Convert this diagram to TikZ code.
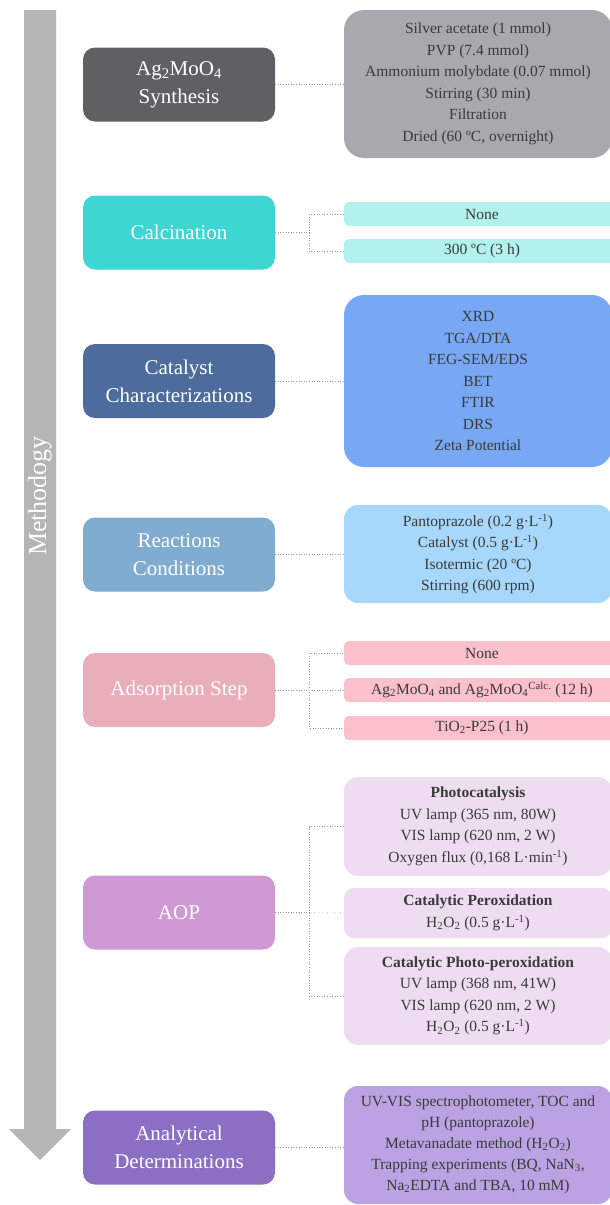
\documentclass[tikz,border=0pt]{standalone}
\usepackage{fontspec}
\setmainfont{Liberation Serif}
\usetikzlibrary{positioning}
\definecolor{arrowgray}{HTML}{B5B5B5}
\definecolor{textgray}{HTML}{3A3A3A}
\definecolor{linkgray}{HTML}{9A9A9A}
\definecolor{synthdark}{HTML}{5E6063}
\definecolor{synthlight}{HTML}{A6A9AE}
\definecolor{calcdark}{HTML}{3DD6D3}
\definecolor{calclight}{HTML}{B3F2EC}
\definecolor{chardark}{HTML}{4B6C9C}
\definecolor{charlight}{HTML}{78A8F4}
\definecolor{reacdark}{HTML}{80ACD0}
\definecolor{reaclight}{HTML}{A7D8FB}
\definecolor{adsdark}{HTML}{E8AEBA}
\definecolor{adslight}{HTML}{FAC0CC}
\definecolor{aopdark}{HTML}{CE99D4}
\definecolor{aoplight}{HTML}{EEDDF1}
\definecolor{anadark}{HTML}{8B6FC2}
\definecolor{analight}{HTML}{BBA3E3}

\begin{document}
\begin{tikzpicture}[x=1pt,y=-1pt,
  stage/.style={rectangle,rounded corners=12pt,fill=#1,text=white,minimum width=192pt,minimum height=74pt,inner sep=0pt,align=center,font=\fontsize{21}{28}\selectfont},
  detail/.style={rectangle,rounded corners=20pt,fill=#1,text=textgray,minimum width=268pt,inner sep=0pt,align=center,font=\fontsize{15.5}{21.5}\selectfont},
  option/.style={detail=#1,rounded corners=5pt,minimum width=276pt,minimum height=24pt},
  link/.style={dotted,draw=linkgray,line width=0.6pt}]

  \useasboundingbox (0,0) rectangle (610,1205);

  % Methodology arrow
  \fill[arrowgray] (24,10) -- (56,10) -- (56,1129) -- (71,1129) -- (40,1160) -- (9,1129) -- (24,1129) -- cycle;
  \node[rotate=90,text=white,font=\fontsize{26}{30}\selectfont] (M) at (40,496) {Methodogy};

  % Stage boxes
  \node[stage=synthdark] (S1) at (179,84.5) {Ag\textsubscript{2}MoO\textsubscript{4}\\Synthesis};
  \node[stage=calcdark] (S2) at (179,232.5) {Calcination};
  \node[stage=chardark] (S3) at (179,381) {Catalyst\\Characterizations};
  \node[stage=reacdark] (S4) at (179,554.5) {Reactions\\Conditions};
  \node[stage=adsdark] (S5) at (179,690) {Adsorption Step};
  \node[stage=aopdark] (S6) at (179,912.5) {AOP};
  \node[stage=anadark] (S7) at (179,1147.5) {Analytical\\Determinations};

  % Detail boxes
  \node[detail=synthlight,minimum height=148pt] (D1) at (478,84) {
    Silver acetate (1 mmol)\\
    PVP (7.4 mmol)\\
    Ammonium molybdate (0.07 mmol)\\
    Stirring (30 min)\\
    Filtration\\
    Dried (60 ºC, overnight)
  };
  \node[option=calclight] (D2a) at (482,214) {None};
  \node[option=calclight] (D2b) at (482,251) {300 ºC (3 h)};
  \node[detail=charlight,minimum height=172pt] (D3) at (478,381) {
    XRD\\
    TGA/DTA\\
    FEG-SEM/EDS\\
    BET\\
    FTIR\\
    DRS\\
    Zeta Potential
  };
  \node[detail=reaclight,rounded corners=14pt,minimum height=98pt] (D4) at (478,554) {
    Pantoprazole (0.2 g·L\textsuperscript{-1})\\
    Catalyst (0.5 g·L\textsuperscript{-1})\\
    Isotermic (20 ºC)\\
    Stirring (600 rpm)
  };
  \node[option=adslight] (D5a) at (482,653) {None};
  \node[option=adslight] (D5b) at (482,690) {Ag\textsubscript{2}MoO\textsubscript{4} and Ag\textsubscript{2}MoO\textsubscript{4}\textsuperscript{Calc.} (12 h)};
  \node[option=adslight] (D5c) at (482,728) {TiO\textsubscript{2}-P25 (1 h)};
  \node[detail=aoplight,rounded corners=14pt,minimum height=99pt] (D6a) at (478,826.5) {
    \textbf{Photocatalysis}\\
    UV lamp (365 nm, 80W)\\
    VIS lamp (620 nm, 2 W)\\
    Oxygen flux (0,168 L·min\textsuperscript{-1})
  };
  \node[detail=aoplight,rounded corners=10pt,minimum height=50pt] (D6b) at (478,913) {
    \textbf{Catalytic Peroxidation}\\
    H\textsubscript{2}O\textsubscript{2} (0.5 g·L\textsuperscript{-1})
  };
  \node[detail=aoplight,rounded corners=14pt,minimum height=98pt] (D6c) at (478,996) {
    \textbf{Catalytic Photo-peroxidation}\\
    UV lamp (368 nm, 41W)\\
    VIS lamp (620 nm, 2 W)\\
    H\textsubscript{2}O\textsubscript{2} (0.5 g·L\textsuperscript{-1})
  };
  \node[detail=analight,rounded corners=14pt,minimum height=118pt,font=\fontsize{15.5}{21}\selectfont] (D7) at (478,1145) {
    UV-VIS spectrophotometer, TOC and\\
    pH (pantoprazole)\\
    Metavanadate method (H\textsubscript{2}O\textsubscript{2})\\
    Trapping experiments (BQ, NaN\textsubscript{3},\\
    Na\textsubscript{2}EDTA and TBA, 10 mM)
  };

  % Links between stages and details
  \draw[link] (S1.east) -- (D1.west |- S1.east);
  \draw[link] (S2.east) -- ++(34,0) |- (D2a.west);
  \draw[link] (S2.east) -- ++(34,0) |- (D2b.west);
  \draw[link] (S3.east) -- (D3.west |- S3.east);
  \draw[link] (S4.east) -- (D4.west |- S4.east);
  \draw[link] (S5.east) -- ++(34,0) |- (D5a.west);
  \draw[link] (S5.east) -- (D5b.west);
  \draw[link] (S5.east) -- ++(34,0) |- (D5c.west);
  \draw[link] (S6.east) -- ++(34,0) |- (D6a.west);
  \draw[link] (S6.east) -- (D6b.west);
  \draw[link] (S6.east) -- ++(34,0) |- (D6c.west);
  \draw[link] (S7.east) -- (D7.west |- S7.east);

\end{tikzpicture}
\end{document}
